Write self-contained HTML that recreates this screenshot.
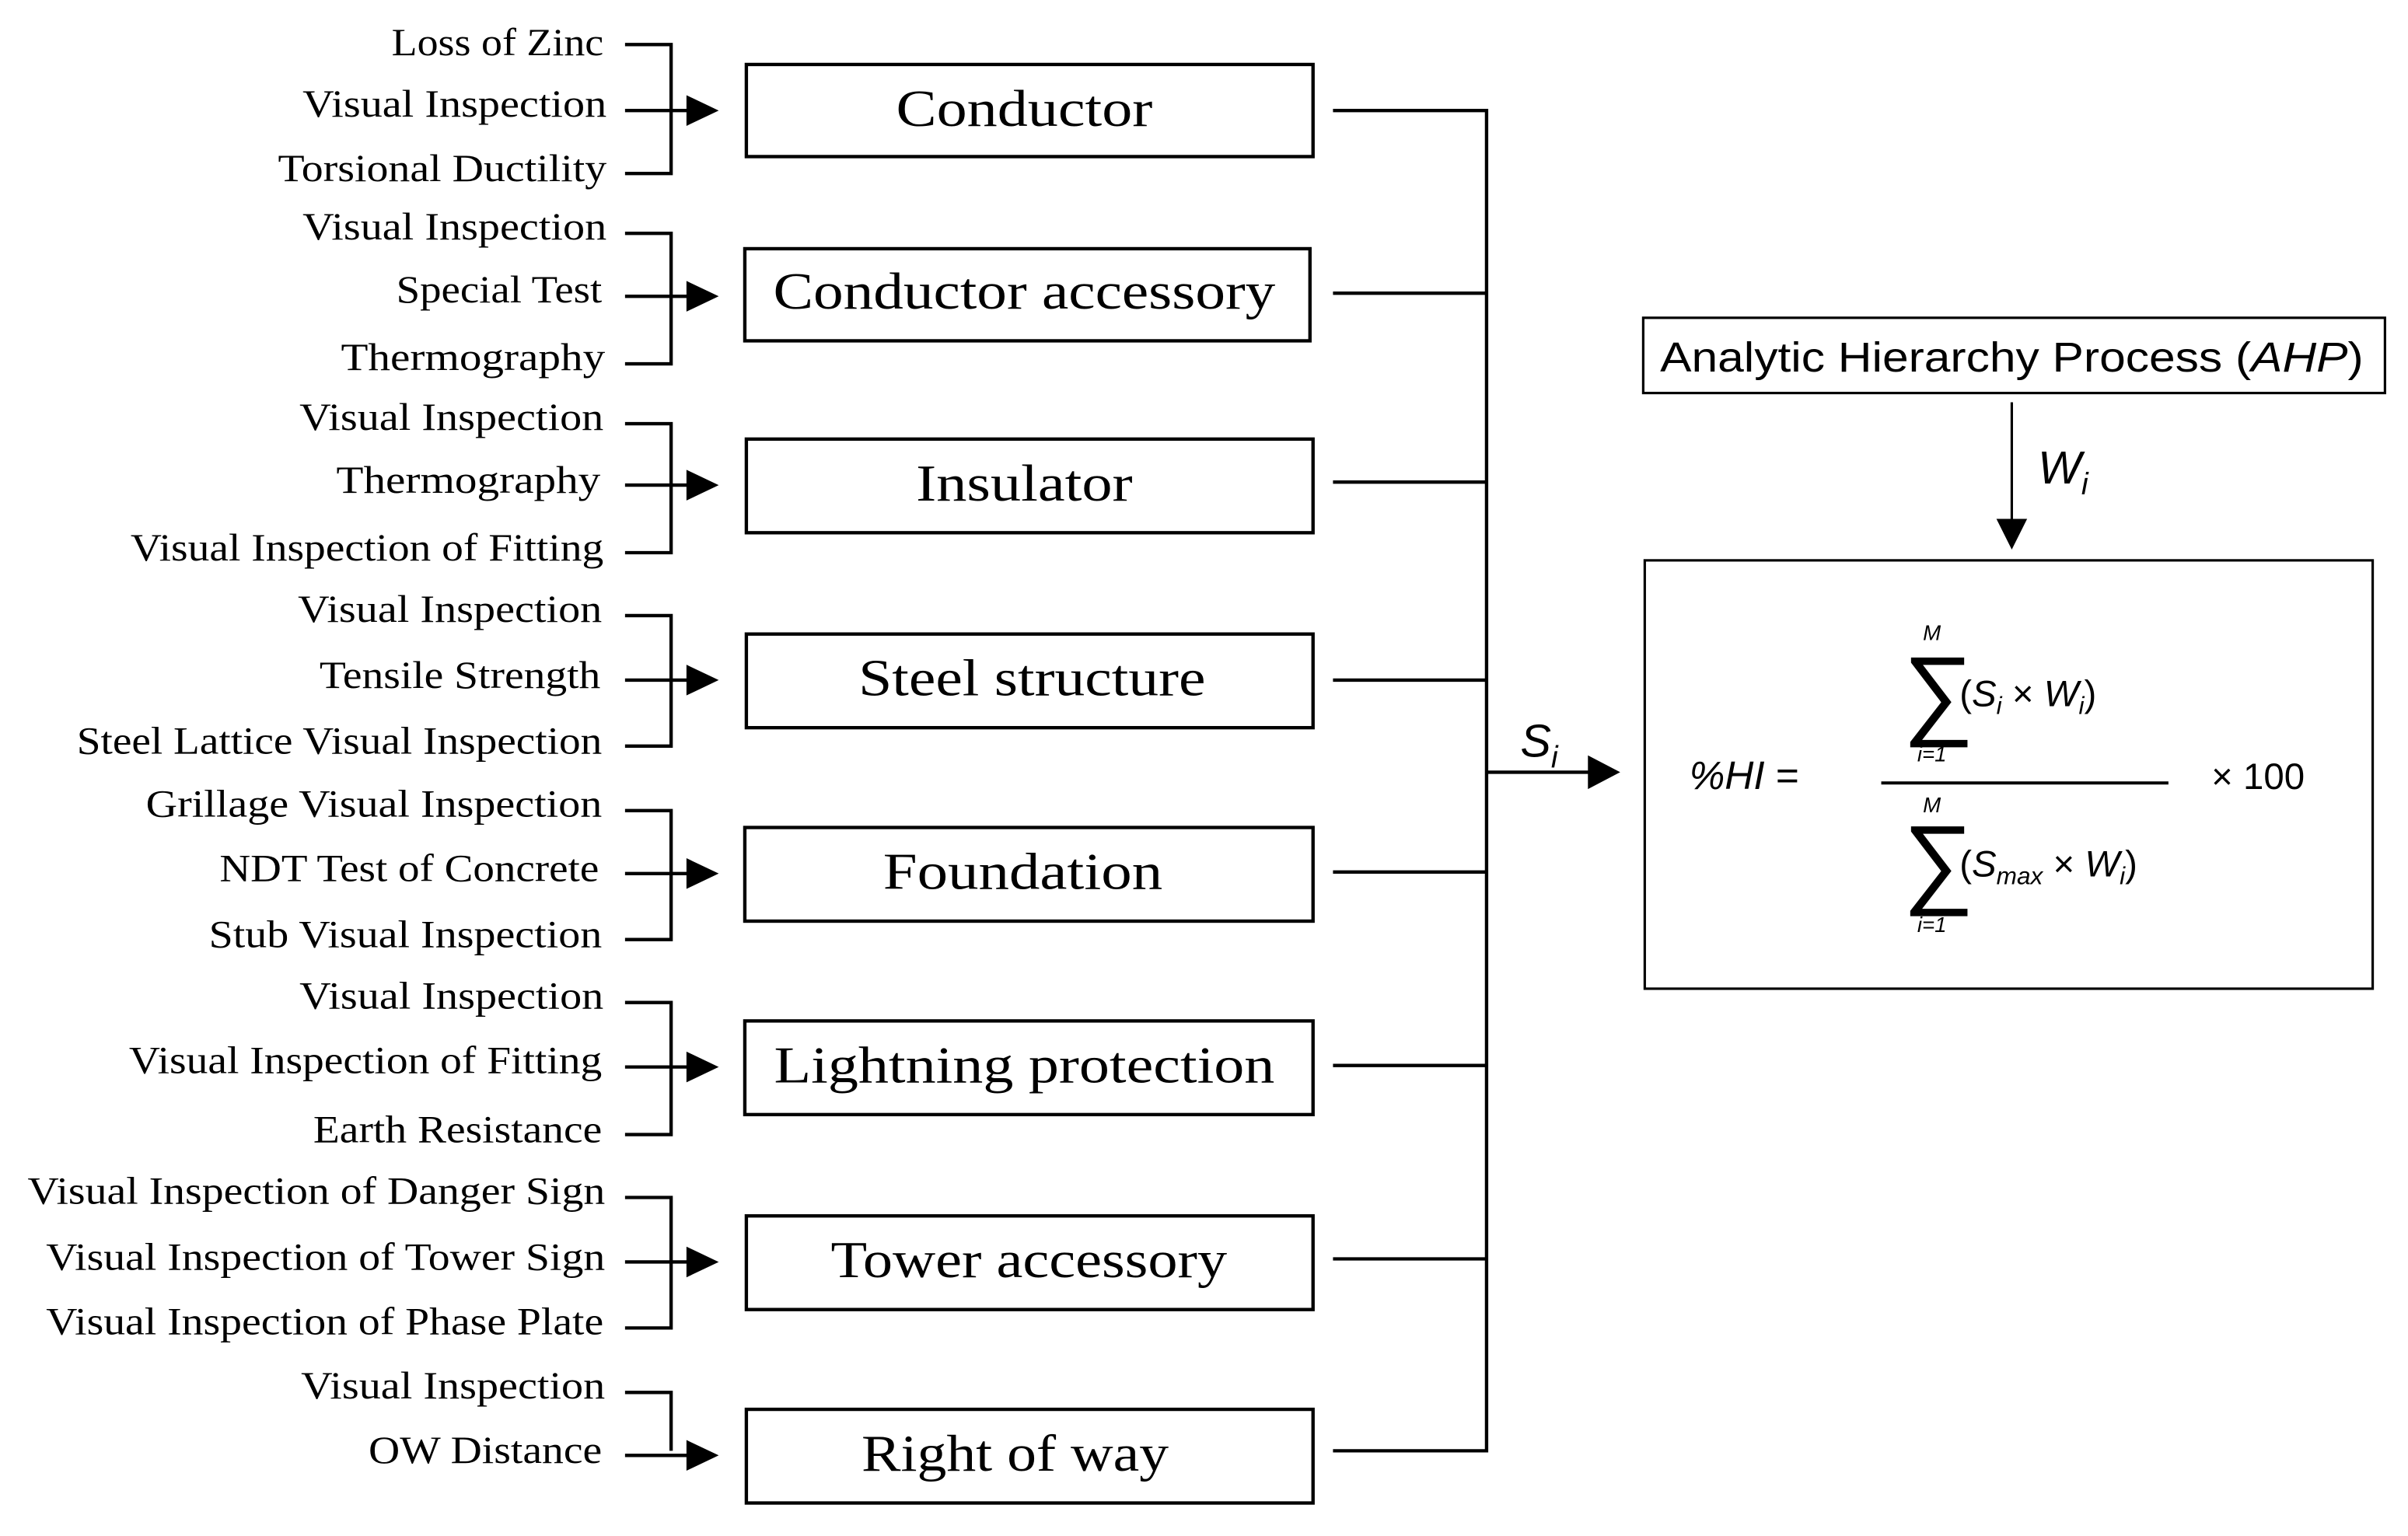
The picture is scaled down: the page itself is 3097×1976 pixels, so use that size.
<!DOCTYPE html>
<html><head><meta charset="utf-8"><style>html,body{margin:0;padding:0;background:#fff}svg{display:block}</style></head>
<body>
<svg width="3097" height="1976" viewBox="0 0 1568 1000.5" preserveAspectRatio="none" xmlns="http://www.w3.org/2000/svg">
<g font-family="Liberation Serif, serif" fill="#000">
<g font-size="25" text-anchor="end">
<text x="393" y="36" textLength="138" lengthAdjust="spacingAndGlyphs">Loss of Zinc</text>
<text x="395" y="76" textLength="198" lengthAdjust="spacingAndGlyphs">Visual Inspection</text>
<text x="395" y="118" textLength="214" lengthAdjust="spacingAndGlyphs">Torsional Ductility</text>
<text x="395" y="156" textLength="198" lengthAdjust="spacingAndGlyphs">Visual Inspection</text>
<text x="392" y="197" textLength="134" lengthAdjust="spacingAndGlyphs">Special Test</text>
<text x="394" y="241" textLength="172" lengthAdjust="spacingAndGlyphs">Thermography</text>
<text x="393" y="280" textLength="198" lengthAdjust="spacingAndGlyphs">Visual Inspection</text>
<text x="391" y="321" textLength="172" lengthAdjust="spacingAndGlyphs">Thermography</text>
<text x="393" y="365" textLength="308" lengthAdjust="spacingAndGlyphs">Visual Inspection of Fitting</text>
<text x="392" y="405" textLength="198" lengthAdjust="spacingAndGlyphs">Visual Inspection</text>
<text x="391" y="448" textLength="183" lengthAdjust="spacingAndGlyphs">Tensile Strength</text>
<text x="392" y="491" textLength="342" lengthAdjust="spacingAndGlyphs">Steel Lattice Visual Inspection</text>
<text x="392" y="532" textLength="297" lengthAdjust="spacingAndGlyphs">Grillage Visual Inspection</text>
<text x="390" y="574" textLength="247" lengthAdjust="spacingAndGlyphs">NDT Test of Concrete</text>
<text x="392" y="617" textLength="256" lengthAdjust="spacingAndGlyphs">Stub Visual Inspection</text>
<text x="393" y="657" textLength="198" lengthAdjust="spacingAndGlyphs">Visual Inspection</text>
<text x="392" y="699" textLength="308" lengthAdjust="spacingAndGlyphs">Visual Inspection of Fitting</text>
<text x="392" y="744" textLength="188" lengthAdjust="spacingAndGlyphs">Earth Resistance</text>
<text x="394" y="784" textLength="376" lengthAdjust="spacingAndGlyphs">Visual Inspection of Danger Sign</text>
<text x="394" y="827" textLength="364" lengthAdjust="spacingAndGlyphs">Visual Inspection of Tower Sign</text>
<text x="393" y="869" textLength="363" lengthAdjust="spacingAndGlyphs">Visual Inspection of Phase Plate</text>
<text x="394" y="911" textLength="198" lengthAdjust="spacingAndGlyphs">Visual Inspection</text>
<text x="392" y="953" textLength="152" lengthAdjust="spacingAndGlyphs">OW Distance</text>
</g>
<g font-size="34" text-anchor="middle">
<text x="667" y="82" textLength="167" lengthAdjust="spacingAndGlyphs">Conductor</text>
<text x="667" y="201" textLength="327" lengthAdjust="spacingAndGlyphs">Conductor accessory</text>
<text x="667" y="326" textLength="141" lengthAdjust="spacingAndGlyphs">Insulator</text>
<text x="672" y="453" textLength="226" lengthAdjust="spacingAndGlyphs">Steel structure</text>
<text x="666" y="579" textLength="182" lengthAdjust="spacingAndGlyphs">Foundation</text>
<text x="667" y="705" textLength="326" lengthAdjust="spacingAndGlyphs">Lightning protection</text>
<text x="670" y="832" textLength="258" lengthAdjust="spacingAndGlyphs">Tower accessory</text>
<text x="661" y="958" textLength="200" lengthAdjust="spacingAndGlyphs">Right of way</text>
</g>
</g>
<g fill="none" stroke="#000" stroke-width="2.2">
<rect x="486" y="42" width="369" height="60"/>
<rect x="485" y="162" width="368" height="60"/>
<rect x="486" y="286" width="369" height="61"/>
<rect x="486" y="413" width="369" height="61"/>
<rect x="485" y="539" width="370" height="61"/>
<rect x="485" y="665" width="370" height="61"/>
<rect x="486" y="792" width="369" height="61"/>
<rect x="486" y="918" width="369" height="61"/>
<path d="M407,29H437V113H407 M407,152H437V237H407 M407,276H437V360H407 M407,401H437V486H407 M407,528H437V612H407 M407,653H437V739H407 M407,780H437V865H407 M407,907H437V945"/>
<path d="M407,72H450 M407,193H450 M407,316H450 M407,443H450 M407,569H450 M407,695H450 M407,822H450 M407,948H450"/>
<path d="M868,72H968V945H868 M868,191H968 M868,314H968 M868,443H968 M868,568H968 M868,694H968 M868,820H968"/>
<path d="M968,503H1036"/>
<rect x="1070" y="207" width="483" height="49" stroke-width="1.6"/>
<path d="M1310,262V340" stroke-width="1.6"/>
<rect x="1071" y="365" width="474" height="279" stroke-width="1.6"/>
<path d="M1225,510H1412" stroke-width="2"/>
</g>
<g fill="#000">
<path d="M447,62L468,72L447,82z"/>
<path d="M447,183L468,193L447,203z"/>
<path d="M447,306L468,316L447,326z"/>
<path d="M447,433L468,443L447,453z"/>
<path d="M447,559L468,569L447,579z"/>
<path d="M447,685L468,695L447,705z"/>
<path d="M447,812L468,822L447,832z"/>
<path d="M447,938L468,948L447,958z"/>
<path d="M1034,492L1055,503L1034,514z"/>
<path d="M1300,338L1310,358L1320,338z"/>
</g>
<g font-family="Liberation Sans, sans-serif" fill="#000">
<text x="1081" y="242" font-size="27" textLength="458" lengthAdjust="spacingAndGlyphs">Analytic Hierarchy Process (<tspan font-style="italic">AHP</tspan>)</text>
<text x="1327" y="315" font-size="30" font-style="italic">W<tspan font-size="20" dy="7">i</tspan></text>
<text x="990" y="493" font-size="30" font-style="italic">S<tspan font-size="20" dy="7">i</tspan></text>
<text x="1100" y="514" font-size="26"><tspan font-style="italic">%HI</tspan> =</text>
<text x="1440" y="514" font-size="24">× 100</text>
<g font-size="14" font-style="italic" text-anchor="middle"><text x="1258" y="417">M</text><text x="1258" y="496">i=1</text><text x="1258" y="529">M</text><text x="1258" y="607">i=1</text></g>
<text x="1239" y="473" font-size="65">∑</text>
<text x="1239" y="583" font-size="65">∑</text>
<text x="1276" y="460" font-size="24">(<tspan font-style="italic">S</tspan><tspan font-size="16" dy="5" font-style="italic">i</tspan><tspan dy="-5"> × </tspan><tspan font-style="italic">W</tspan><tspan font-size="16" dy="5" font-style="italic">i</tspan><tspan dy="-5">)</tspan></text>
<text x="1276" y="571" font-size="24">(<tspan font-style="italic">S</tspan><tspan font-size="16" dy="5" font-style="italic">max</tspan><tspan dy="-5"> × </tspan><tspan font-style="italic">W</tspan><tspan font-size="16" dy="5" font-style="italic">i</tspan><tspan dy="-5">)</tspan></text>
</g>
</svg>
</body></html>
